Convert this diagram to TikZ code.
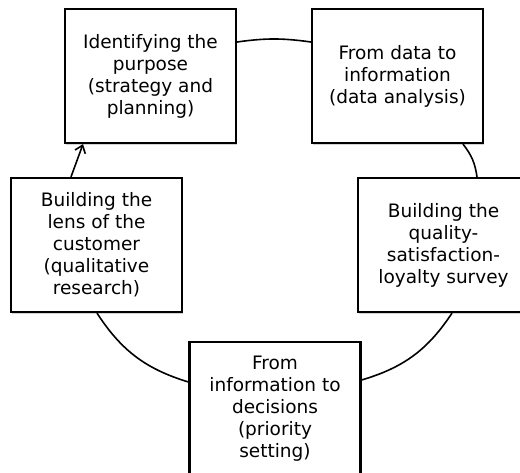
\documentclass[tikz,border=0pt]{standalone}
\usepackage{fontspec}
\setmainfont{DejaVu Sans}
\usetikzlibrary{arrows.meta,shadows}
\begin{document}
\begin{tikzpicture}[x=1pt,y=-1pt,
  stage/.style={draw=black, line width=2.2pt, fill=white, minimum width=171pt,
    minimum height=134pt, inner sep=0pt, align=center,
    font=\fontsize{18.5}{22}\selectfont,
    drop shadow={shadow xshift=1.2pt, shadow yshift=-1.8pt, opacity=0.35}},
  link/.style={line width=1.6pt}]
\useasboundingbox (0,0) rectangle (520,473);
\clip (0,0) rectangle (520,473);
\node[stage] (A) at (150.5,76) {Identifying the\\purpose\\(strategy and\\planning)};
\node[stage] (B) at (397.5,76) {From data to\\information\\(data analysis)};
\node[stage] (C) at (443.5,245) {Building the\\quality-\\satisfaction-\\loyalty survey};
\node[stage] (D) at (96.5,245) {Building the\\lens of the\\customer\\(qualitative\\research)};
\node[stage] (E) at (275,409) {From\\information to\\decisions\\(priority\\setting)};
\draw[link] ([yshift=34pt]A.east) to[bend left=8] ([yshift=34pt]B.west);
\draw[link] ([xshift=65.5pt]B.south) to[bend left=15] ([xshift=33.5pt]C.north);
\draw[link] ([xshift=8.5pt]C.south) to[bend left=20] ([yshift=29pt]E.east);
\draw[link] ([xshift=0.5pt]D.south) to[bend right=20] ([yshift=27pt]E.west);
\draw[link,-{Straight Barb[length=7pt,width=11pt,line width=1.6pt]}] ([xshift=-25.5pt]D.north) -- ([xshift=-67.5pt]A.south);
\end{tikzpicture}
\end{document}
